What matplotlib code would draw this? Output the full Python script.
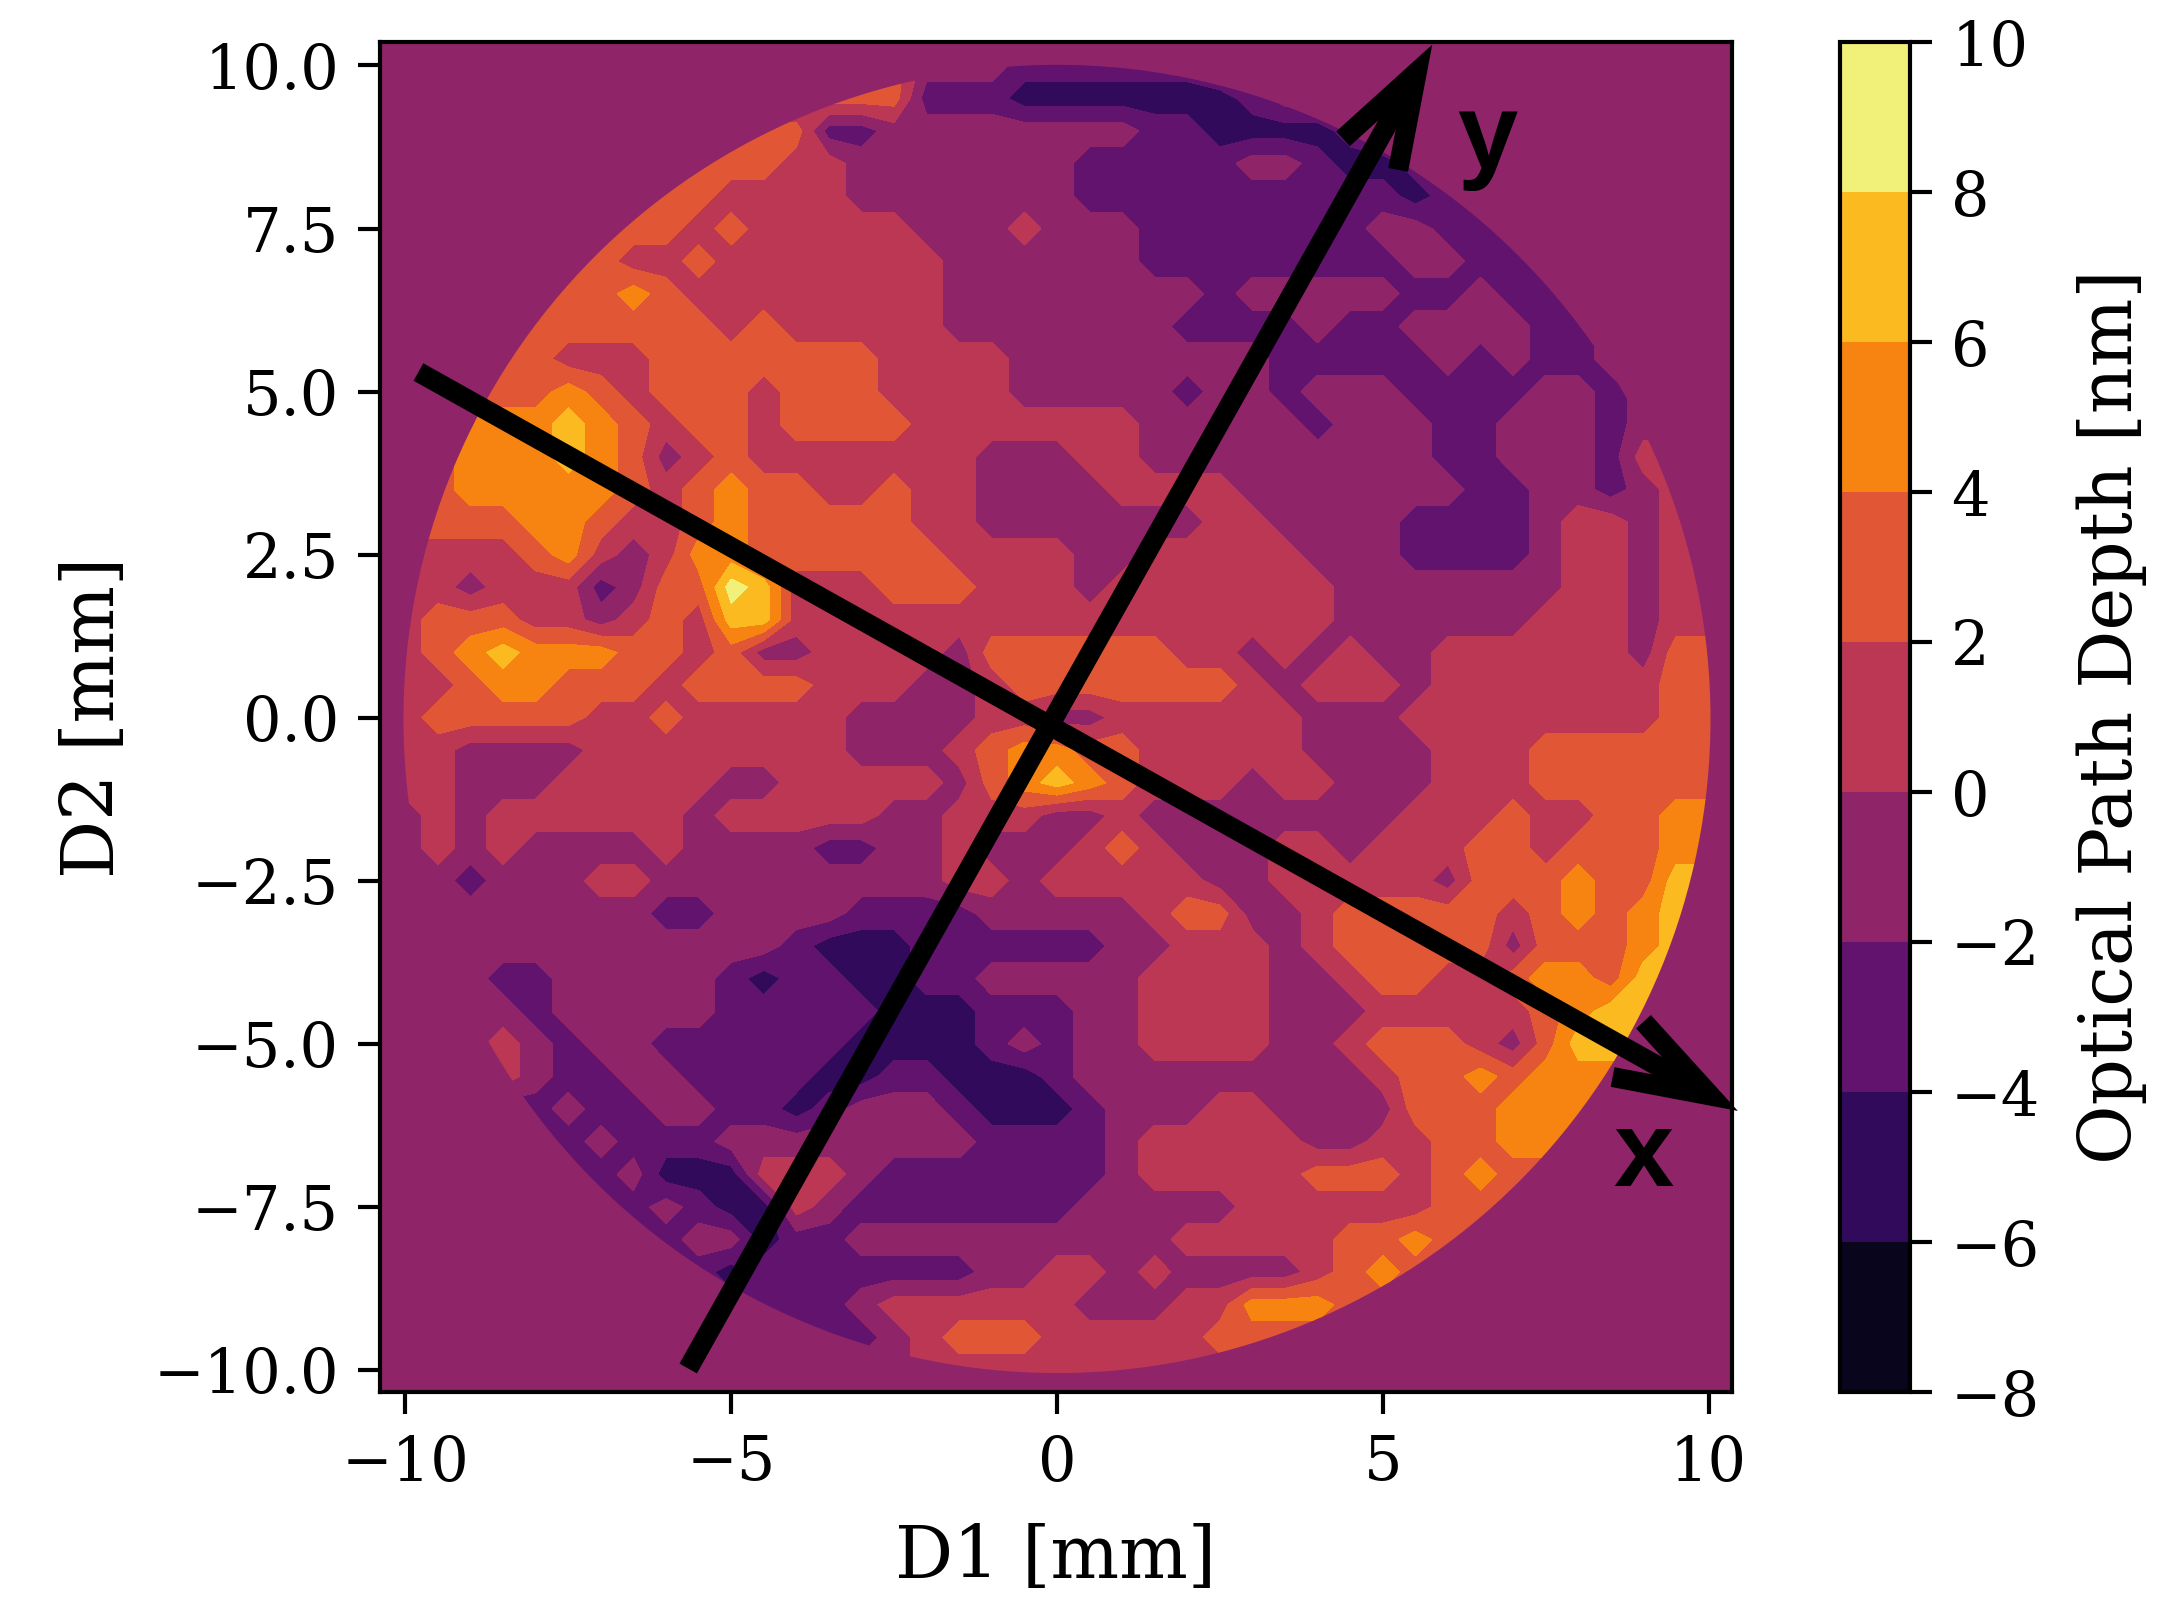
"""
Optical path depth map of the mirror surface
"""
import matplotlib
matplotlib.use('Agg')
import matplotlib.pyplot as plt
from matplotlib.patches import Circle
import numpy as np

# values on a 0.5 mm grid, rows from D2 = 10 down to D2 = -10
x_mm = np.arange(-10, 10.5, 0.5)
y_mm = np.arange(10, -10.5, -0.5)
depth_rows = [
    [-1,-1,-1,-1,-1,-1,-1,-1,-1,-1,-1,-1,-1,-1, 3, 3,-1,-1,-1,-3,-3, -3,-3,-3,-3,-1,-1,-1,-1,-1,-1,-1,-1,-1,-1,-1,-1,-1,-1,-1,-1],
    [-1,-1,-1,-1,-1,-1,-1,-1,-1,-1,-1,-1,-1, 3, 3, 3,-3,-3,-3,-5,-5, -5,-5,-5,-5,-5,-3,-1,-1,-1,-1,-1,-1,-1,-1,-1,-1,-1,-1,-1,-1],
    [-1,-1,-1,-1,-1,-1,-1,-1,-1,-1, 3, 3, 3,-3,-3,-1,-1,-1,-1,-1,-1, -1,-1,-3,-3,-5,-5,-5,-5,-3,-1,-1,-1,-1,-1,-1,-1,-1,-1,-1,-1],
    [-1,-1,-1,-1,-1,-1,-1,-1, 3, 3, 3, 3, 1, 1,-1,-1,-1,-1,-1,-1,-1, -3,-3,-3,-3,-3,-1,-1,-3,-5,-5,-3,-1,-1,-1,-1,-1,-1,-1,-1,-1],
    [-1,-1,-1,-1,-1,-1, 3, 3, 3, 3, 1, 1, 1, 1,-1,-1,-1,-1,-1,-1,-1, -3,-3,-3,-3,-3,-3,-3,-3,-3,-3,-5,-3,-3,-1,-1,-1,-1,-1,-1,-1],
    [-1,-1,-1,-1,-1, 3, 3, 3, 3, 1, 3, 1, 1, 1, 1, 1,-1,-1,-1, 1,-1, -1,-1,-3,-3,-3,-3,-3,-3,-3,-1,-1,-3,-3,-1,-1,-1,-1,-1,-1,-1],
    [-1,-1,-1,-1, 3, 3, 3, 1, 1, 3, 1, 1, 1, 1, 1, 1, 1,-1,-1,-1,-1, -1,-1,-3,-3,-3,-3,-3,-3,-3,-3,-1,-1,-3,-3,-1,-1,-1,-1,-1,-1],
    [-1,-1,-1, 3, 3, 3, 3, 5, 3, 1, 1, 1, 1, 1, 1, 1, 1,-1,-1,-1,-1, -1,-1,-1,-1,-3,-1,-1,-1,-1,-1,-3,-3,-1,-3,-3,-1,-1,-1,-1,-1],
    [-1,-1, 3, 3, 3, 3, 3, 3, 3, 3, 1, 3, 1, 1, 1, 1, 1,-1,-1,-1,-1, -1,-1,-1,-3,-3,-3,-3,-1,-3,-3,-1,-1,-1,-1,-3,-3,-1,-1,-1,-1],
    [-1,-1, 3, 3, 3, 1, 1, 1, 3, 3, 3, 3, 3, 3, 3, 1, 1, 1, 1,-1,-1, -1,-1,-1,-1,-1,-1,-3,-3,-3,-3,-3,-1,-3,-1,-3,-3,-1,-1,-1,-1],
    [-1, 3, 3, 3, 3, 5, 3, 1, 3, 3, 3, 1, 3, 3, 3, 1, 1, 1, 1,-1,-1, -1,-1,-1,-3,-1,-1,-3,-1,-1,-1,-3,-3,-3,-3,-1,-1,-3,-1,-1,-1],
    [-1, 3, 5, 5, 5, 7, 5, 3, 1, 3, 3, 1, 3, 3, 3, 3, 1, 1, 1, 1, 1,  1, 1,-1,-1,-1,-1,-1,-3,-1,-1,-1,-3,-3,-1,-1,-1,-3,-1,-1,-1],
    [ 3, 3, 5, 5, 5, 7, 5, 3,-1, 1, 3, 1, 1, 1, 1, 1, 1, 1,-1,-1,-1,  1, 1,-1,-1,-1,-1,-1,-1,-1,-1,-1,-3,-3,-1,-1,-1,-3, 1, 1,-1],
    [ 3, 3, 5, 5, 5, 5, 5, 3, 1, 3, 5, 3, 3, 1, 1, 3, 1, 1,-1,-1,-1, -1, 1, 1, 1, 1,-1,-1,-1,-1,-1,-1,-1,-3,-3,-1,-1,-3,-1, 1, 1],
    [ 3, 3, 3, 3, 5, 5, 3, 1, 1, 3, 5, 3, 3, 3, 3, 3, 1, 1,-1,-1,-1, -1,-1,-1,-1, 1, 1,-1,-1,-1,-1,-3,-3,-3,-3,-1, 1, 1,-1, 1, 1],
    [ 1, 1, 1, 1, 3, 5, 1,-1, 1, 5, 5, 3, 3, 3, 3, 3, 3, 1, 1, 1, 1, -1,-1, 1, 1, 1, 1, 1,-1,-1,-1,-3,-3,-3,-3,-1, 1, 1,-1, 1, 1],
    [ 1, 1,-1, 1, 1, 1,-3,-1, 3, 3, 9, 7, 1, 1, 1, 3, 3, 3, 1, 1, 1, -1, 1, 1, 1, 1, 1, 1, 1,-1,-1,-1,-1,-1,-1,-1, 1, 1,-1, 1, 1],
    [ 1, 3, 3, 3, 1, 1,-1, 1, 3, 1, 7, 7, 1, 1, 1, 1, 1, 1, 1, 1, 1,  1, 1, 1, 1, 1, 1, 1, 1,-1,-1,-1,-1,-1,-1, 1, 1, 1,-1, 1, 1],
    [ 1, 3, 5, 7, 5, 5, 5, 3, 3, 1, 3,-1,-1, 1, 1, 1, 1,-1, 3, 3, 3,  3, 3, 3, 1, 1,-1, 1,-1, 1,-1,-1, 1, 1, 1, 1, 1, 1,-1, 3, 3],
    [ 1, 1, 3, 5, 5, 3, 3, 3, 1, 3, 3, 3, 3, 1, 1, 1,-1,-1, 1, 3, 3,  3, 3, 3, 3, 3, 1,-1, 1, 1, 1,-1, 1, 1, 1, 1, 1, 1, 1, 3, 3],
    [ 1, 3, 3, 3, 3, 3, 1, 1, 3, 1, 1, 1, 1, 1,-1,-1,-1,-1, 1, 1,-1, -1, 1, 1, 1, 1, 1, 1,-1,-1,-1, 1, 1, 1, 1, 1, 1, 1, 1, 3, 3],
    [ 1, 1,-1,-1,-1,-1, 1, 1, 1, 1, 1, 1, 1, 1,-1,-1,-1, 1, 3, 5, 5,  3, 3, 1, 1, 1, 1, 1,-1,-1,-1,-1, 1, 1, 1, 3, 3, 3, 3, 3, 3],
    [ 1, 1,-1,-1,-1, 1, 1, 1, 1, 1,-1,-1, 1, 1, 1, 1, 1,-1, 3, 5, 7,  5, 3, 1, 1, 1,-1, 1, 1,-1,-1,-1, 1, 1, 1, 3, 3, 3, 3, 3, 3],
    [-1, 1,-1, 1, 1, 1, 1, 1, 1,-1, 1, 1, 1, 1, 1,-1,-1, 1, 1, 1,-1, -1, 1,-1,-1,-1,-1,-1,-1,-1,-1, 1, 1, 1, 3, 1, 1, 3, 3, 5, 5],
    [-1, 1,-1, 1,-1,-1,-1,-1, 1,-1,-1,-1,-1,-3,-3,-1,-1, 1,-1,-1,-1,  1, 3, 1,-1,-1,-1, 1, 1,-1, 1, 1, 1, 3, 3, 1, 3, 3, 3, 5, 5],
    [-1,-1,-3,-1,-1,-1, 1, 1,-1,-1,-1,-1,-1,-1,-1,-1,-1, 1, 1,-1, 1,  1, 1, 1, 1,-1,-1, 1, 1, 1, 1, 1,-1, 3, 3, 3, 5, 3, 3, 7, 7],
    [-1,-1,-1,-1,-1,-1,-1,-1,-3,-3,-1,-1,-1,-1,-3,-3,-3,-3,-1,-1,-1, -1,-1, 1, 3, 3,-1,-1, 1, 3, 3, 3, 3, 3, 1, 3, 5, 3, 5, 7, 7],
    [-1,-1,-1,-1,-1,-1,-1,-1,-1,-1,-1,-1,-3,-5,-5,-5,-3,-3,-3,-3,-3, -3,-1,-1, 1, 1, 1,-1, 1, 3, 3, 3, 3, 3,-1, 3, 3, 3, 5, 7, 7],
    [-1,-1,-1,-3,-3,-1,-1,-1,-1,-1,-3,-5,-3,-3,-5,-5,-3,-3,-1,-1,-1, -1,-1, 1, 1, 1, 1,-1,-1, 1, 3, 3, 1, 1, 3, 5, 5, 3, 7, 7,-1],
    [-1,-1,-1,-1,-3,-1,-1,-1,-1,-1,-3,-3,-3,-3,-3,-5,-5,-5,-3,-3,-3, -1,-1, 1, 1, 1, 1,-1,-1,-1, 1, 1, 1, 1, 1, 3, 5, 7, 7, 7,-1],
    [-1,-1,-1, 1,-1,-3,-1,-1,-3,-3,-3,-3,-3,-3,-5,-5,-5,-5,-3,-1,-3, -1,-1, 1, 1, 1, 1,-1,-1, 1, 3, 3, 3, 1,-1, 3, 7, 7, 7,-1,-1],
    [-1,-1,-1, 1,-1,-3,-3,-1,-1,-3,-3,-3,-3,-5,-5,-3,-3,-5,-5,-5,-3, -1,-1,-1,-1,-1,-1,-1,-1,-1, 1, 3, 3, 5, 3, 5, 5, 5, 5,-1,-1],
    [-1,-1,-1,-3,-3,-1,-3,-3,-1,-1,-3,-3,-5,-3,-1,-1,-1,-3,-5,-5,-5, -3,-1,-1,-1, 1, 1,-1,-1,-1,-1, 3, 3, 3, 5, 5, 5, 5,-1,-1,-1],
    [-1,-1,-1,-1,-3,-3,-1,-3,-3,-3,-1,-1,-1,-1,-1,-1,-1,-1,-3,-3,-3, -3,-1, 1, 1, 1, 1, 1,-1,-1, 1, 1, 3, 3, 5, 5, 5, 3,-1,-1,-1],
    [-1,-1,-1,-1,-1,-3,-3,-1,-5,-5,-5, 1, 1, 1,-1,-3,-3,-3,-3,-3,-3, -3,-1, 1, 1, 1, 1, 1, 3, 3, 3, 1, 3, 5, 3, 3, 3,-1,-1,-1,-1],
    [-1,-1,-1,-1,-1,-1,-3,-3,-1,-3,-5,-5, 1,-1,-3,-3,-3,-3,-3,-3,-3, -1,-1,-1,-1,-1, 1, 1, 1, 1, 1, 1, 3, 3, 3, 3,-1,-1,-1,-1,-1],
    [-1,-1,-1,-1,-1,-1,-1,-3,-3,-1,-1,-5,-3,-3,-1,-1,-1,-1,-1,-1,-1, -1,-1,-1, 1, 1, 1, 1, 1, 3, 3, 5, 3, 3, 3,-1,-1,-1,-1,-1,-1],
    [-1,-1,-1,-1,-1,-1,-1,-1,-1,-3,-5,-3,-3,-3,-3,-3,-3,-3,-1,-1, 1,  1,-1, 1,-1,-1,-1,-1, 1, 3, 5, 3, 3,-1,-1,-1,-1,-1,-1,-1,-1],
    [-1,-1,-1,-1,-1,-1,-1,-1,-1,-1,-3,-3,-3,-3,-1, 1, 1, 1, 1, 1, 1, -1,-1,-1, 1, 1, 5, 5, 5, 3, 3, 3,-1,-1,-1,-1,-1,-1,-1,-1,-1],
    [-1,-1,-1,-1,-1,-1,-1,-1,-1,-1,-1,-1,-1,-3,-3,-1, 1, 3, 3, 3, 1,  1, 1, 1, 1, 3, 3, 3, 3,-1,-1,-1,-1,-1,-1,-1,-1,-1,-1,-1,-1],
    [-1,-1,-1,-1,-1,-1,-1,-1,-1,-1,-1,-1,-1,-1,-1,-1, 1, 1, 1, 1, 1,  1, 1, 1, 1, 1, 1,-1,-1,-1,-1,-1,-1,-1,-1,-1,-1,-1,-1,-1,-1],
]
depth_levels = [-8, -6, -4, -2, 0, 2, 4, 6, 8, 10]
x_ticks = [-10, -5, 0, 5, 10]
y_ticks = [-10.0, -7.5, -5.0, -2.5, 0.0, 2.5, 5.0, 7.5, 10.0]

plt.rcParams['font.family'] = 'DejaVu Serif'
plt.rcParams['axes.linewidth'] = 0.75
plt.rcParams['xtick.major.width'] = 0.75
plt.rcParams['ytick.major.width'] = 0.75
plt.rcParams['xtick.major.size'] = 3.9
plt.rcParams['ytick.major.size'] = 3.9

W, H = 2183, 1618
fig = plt.figure(figsize=(W / 400, H / 400), dpi=400)
ax = fig.add_axes([380 / W, 1 - 1392 / H, 1352 / W, 1350 / H])
cax = fig.add_axes([1840 / W, 1 - 1392 / H, 70 / W, 1350 / H])

# carry the edge values outwards, the disc clip below gives the round rim
depth = np.pad(np.array(depth_rows, dtype=float), 1, mode='edge')
xs = np.concatenate(([-11], x_mm, [11]))
ys = np.concatenate(([11], y_mm, [-11]))

cf = ax.contourf(xs, ys, depth, levels=depth_levels, cmap='inferno', vmin=-7.9, vmax=9.8)
ax.set_facecolor(cf.cmap(cf.norm(-1)))
cf.set_clip_path(Circle((0, -0.02), 10.03, transform=ax.transData))
ax.set_xlim(-10.39, 10.36)
ax.set_ylim(-10.34, 10.36)
ax.set_xticks(x_ticks)
ax.set_yticks(y_ticks)
ax.tick_params(labelsize=10.9)
ax.set_xlabel('D1 [mm]', fontsize=13.05, labelpad=5.2)
ax.set_ylabel('D2 [mm]', fontsize=13.05, labelpad=4.4)

cb = fig.colorbar(cf, cax=cax)
cb.ax.tick_params(labelsize=10.9)
cb.set_label('Optical Path Depth [nm]', fontsize=13.05, labelpad=6.4)

# the two sample axes
arrow = dict(arrowstyle='->,head_length=1.7,head_width=0.57', mutation_scale=10, lw=3.6,
             color='black', shrinkA=0, shrinkB=0, capstyle='butt', joinstyle='miter')
ax.annotate('', xy=(10.45, -6.03), xytext=(-9.8, 5.3), arrowprops=arrow, annotation_clip=False)
ax.annotate('', xy=(5.76, 10.32), xytext=(-5.66, -9.98), arrowprops=arrow, annotation_clip=False)
ax.text(9.0, -6.75, 'x', fontsize=19.5, fontweight='bold', family='Liberation Sans', ha='center', va='center')
ax.text(6.6, 8.84, 'y', fontsize=19.5, fontweight='bold', family='Liberation Sans', ha='center', va='center')

fig.savefig('out.png', dpi=400)
